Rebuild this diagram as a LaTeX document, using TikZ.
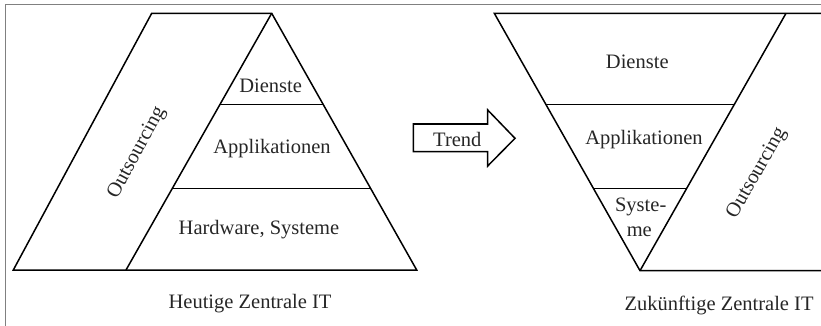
\documentclass[tikz,border=0pt]{standalone}
\usepackage{fontspec}
\setmainfont{Liberation Serif}
\usetikzlibrary{calc}
\begin{document}
\begin{tikzpicture}[x=1pt,y=-1pt,line join=miter]
\tikzset{
  shapeline/.style={draw=black,line width=1.5pt},
  framel/.style={draw=black!50,line width=1.3pt},
  lbl/.style={font=\fontsize{20.5}{21}\selectfont,text=black!85,inner sep=0pt},
}
\useasboundingbox (0,0) rectangle (821,326);
\clip (0,0) rectangle (821,326);
% frame
\draw[framel] (5.5,330) -- (5.5,4.5) -- (830,4.5);
% left pyramid
\coordinate (LTL) at (151.7,13.3);
\coordinate (LA) at (271.7,13.3);
\coordinate (LBL) at (13.3,270);
\coordinate (LBM) at (126,270);
\coordinate (LBR) at (416.7,270);
\draw[shapeline] (LBL) -- (LTL) -- (LA) -- (LBR) -- cycle;
\draw[shapeline] (LA) -- (LBM);
\draw[shapeline] ($(LA)!0.3545!(LBM)$) -- ($(LA)!0.3545!(LBR)$);
\draw[shapeline] ($(LA)!0.6817!(LBM)$) -- ($(LA)!0.6817!(LBR)$);
\node[lbl] (ld) at (270.7,86) {Dienste};
\node[lbl] (la) at (272,149) {Applikationen};
\node[lbl] (lh) at (259,230) {Hardware, Systeme};
\node[lbl,rotate=61.7] (lo) at (137,153) {Outsourcing};
\node[lbl] (lt) at (250,303.5) {Heutige Zentrale IT};
% trend arrow
\draw[line width=1.5pt] (413.3,124) -- (487.7,124) -- (487.7,110) -- (515,138.3)
  -- (487.7,166) -- (487.7,151.7) -- (413.3,151.7) -- cycle;
\node[lbl] (tr) at (457.3,139.3) {Trend};
% right funnel
\coordinate (RTL) at (494.3,13.3);
\coordinate (RTR) at (786,13.3);
\coordinate (RAP) at (640,270.7);
\coordinate (RE1) at (830,13.3);
\coordinate (RE2) at (830,270.7);
\draw[shapeline] (RE1) -- (RTL) -- (RAP) -- (RE2);
\draw[shapeline] (RTR) -- (RAP);
\draw[shapeline] ($(RTL)!0.3535!(RAP)$) -- ($(RTR)!0.3535!(RAP)$);
\draw[shapeline] ($(RTL)!0.680!(RAP)$) -- ($(RTR)!0.680!(RAP)$);
\node[lbl] (rd) at (637.3,61.7) {Dienste};
\node[lbl] (ra) at (644,140) {Applikationen};
\node[lbl] (rs1) at (640.7,206.7) {Syste-};
\node[lbl] (rs2) at (639.3,231.7) {me};
\node[lbl,rotate=60.4] (ro) at (757,173.3) {Outsourcing};
\node[lbl] (rt) at (719,305) {Zukünftige Zentrale IT};
\end{tikzpicture}
\end{document}
